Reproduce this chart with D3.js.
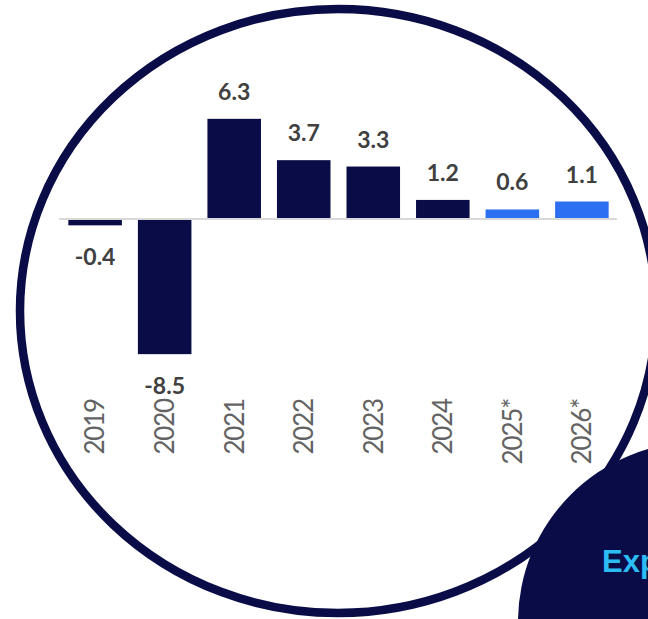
<!DOCTYPE html>
<html>
<head>
<meta charset="utf-8">
<script src="https://cdn.jsdelivr.net/npm/d3@7"></script>
<style>
  html, body { margin: 0; padding: 0; background: #ffffff; overflow: hidden; }
  svg { display: block; }
</style>
</head>
<body>
<svg id="chart" width="648" height="619"></svg>
<script>
// Annual growth, %; the last two years are forecasts
const years = ["2019", "2020", "2021", "2022", "2023", "2024", "2025*", "2026*"];
const growth = [-0.4, -8.5, 6.3, 3.7, 3.3, 1.2, 0.6, 1.1];
const forecast = [false, false, false, false, false, false, true, true];
const valueText = ["-0.4", "-8.5", "6.3", "3.7", "3.3", "1.2", "0.6", "1.1"];
const badgeText = ["Expected"];

const NAVY = "#090c46";
const BLUE = "#2d6ff1";

const svg = d3.select("#chart");

// Round frame around the chart
svg.append("ellipse")
  .attr("cx", 338).attr("cy", 311)
  .attr("rx", 318).attr("ry", 302)
  .attr("fill", "none")
  .attr("stroke", NAVY)
  .attr("stroke-width", 8.5);

const x = d3.scaleBand()
  .domain(years)
  .range([60, 617])
  .paddingInner(0.23)
  .paddingOuter(0.12);

const y = d3.scaleLinear()
  .domain([-10, 8])
  .range([219 + 10 * 15.9, 219 - 8 * 15.9]);

const rows = years.map((yr, i) => ({ yr, v: growth[i], f: forecast[i], t: valueText[i] }));

// Bars
svg.append("g")
  .selectAll("rect")
  .data(rows)
  .join("rect")
  .attr("x", d => x(d.yr))
  .attr("width", x.bandwidth())
  .attr("y", d => Math.min(y(d.v), y(0)))
  .attr("height", d => Math.abs(y(d.v) - y(0)))
  .attr("fill", d => d.f ? BLUE : NAVY);

// Zero line
svg.append("line")
  .attr("x1", x.range()[0] - 1).attr("x2", x.range()[1])
  .attr("y1", y(0)).attr("y2", y(0))
  .attr("stroke", "#d9d9d9")
  .attr("stroke-width", 2);

// Value labels
svg.append("g")
  .selectAll("text")
  .data(rows)
  .join("text")
  .attr("x", d => x(d.yr) + x.bandwidth() / 2)
  .attr("y", d => d.v >= 0 ? y(d.v) - 19 : y(d.v) + 40)
  .attr("text-anchor", "middle")
  .attr("font-family", "Lato, 'Open Sans', sans-serif")
  .attr("font-weight", 700)
  .attr("font-size", 23)
  .attr("fill", "#404040")
  .text(d => d.t);

// Category labels, rotated
svg.append("g")
  .selectAll("text")
  .data(rows)
  .join("text")
  .attr("transform", d => `translate(${x(d.yr) + x.bandwidth() / 2},399) rotate(-90)`)
  .attr("text-anchor", "end")
  .attr("dy", "0.36em")
  .attr("font-family", "Lato, 'Open Sans', sans-serif")
  .attr("font-size", 26)
  .attr("letter-spacing", -1.2)
  .attr("fill", "#636363")
  .text(d => d.yr);

// Badge in the lower right corner
svg.append("circle")
  .attr("cx", 698).attr("cy", 622).attr("r", 180)
  .attr("fill", NAVY);

svg.append("text")
  .attr("x", 602).attr("y", 572)
  .attr("font-family", "'Liberation Sans', Arial, sans-serif")
  .attr("font-weight", 700)
  .attr("font-size", 31)
  .attr("fill", "#2bbcf3")
  .text(badgeText[0]);
</script>
</body>
</html>
